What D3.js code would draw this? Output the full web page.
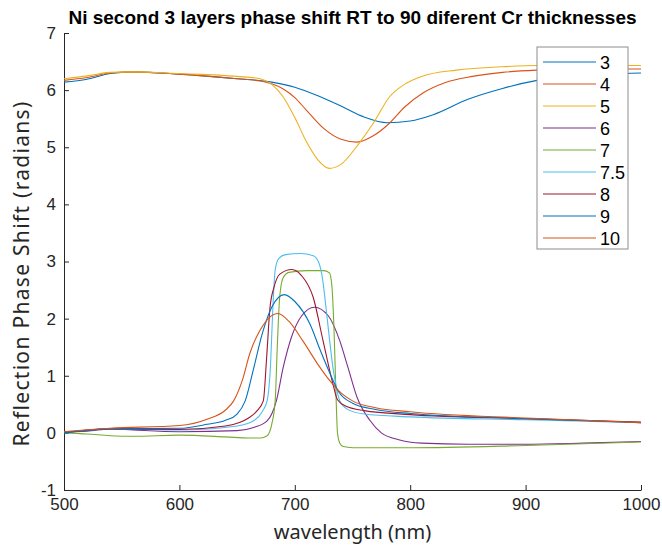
<!DOCTYPE html>
<html>
<head>
<meta charset="utf-8">
<script src="https://cdn.jsdelivr.net/npm/d3@7"></script>
<style>
  body { margin: 0; background: #fff; }
  svg { display: block; }
</style>
</head>
<body>
<div id="chart"></div>
<script>
// Legend names, in plot order
const names = ["3", "4", "5", "6", "7", "7.5", "8", "9", "10"];
const colors = ["#0072BD", "#D95319", "#EDB120", "#7E2F8E", "#77AC30", "#4DBEEE", "#A2142F", "#0072BD", "#D95319"];

// [wavelength nm, phase shift rad]
const s3 = [[500,6.14],[520,6.19],[540,6.29],[560,6.32],[600,6.28],[650,6.2],[680,6.14],[700,6.05],[720,5.9],[740,5.72],[760,5.53],[780,5.43],[800,5.46],[820,5.57],[850,5.84],[880,6.03],[910,6.17],[950,6.26],[1000,6.3]];
const s4 = [[500,6.17],[520,6.22],[540,6.3],[560,6.32],[600,6.28],[650,6.2],[670,6.16],[680,6.11],[690,6.02],[700,5.87],[710,5.65],[725,5.33],[740,5.14],[754,5.09],[768,5.2],[782,5.42],[795,5.7],[811,5.95],[830,6.13],[854,6.24],[880,6.31],[910,6.35],[950,6.37],[1000,6.37]];
const s5 = [[500,6.2],[520,6.25],[540,6.31],[560,6.32],[600,6.29],[650,6.24],[670,6.2],[680,6.1],[690,5.88],[700,5.52],[710,5.1],[720,4.78],[730,4.63],[740,4.7],[755,5.05],[768,5.42],[782,5.88],[795,6.1],[810,6.24],[840,6.35],[880,6.41],[910,6.43],[1000,6.43]];
const s6 = [[500,0.02],[520,0.03],[540,0.07],[560,0.05],[600,0.02],[650,0.04],[665,0.1],[676,0.21],[680,0.33],[684,0.56],[690,1.15],[697,1.67],[706,2.05],[717,2.2],[729,2.05],[739,1.61],[746,1.15],[754,0.62],[765,0.22],[775,0.0],[790,-0.12],[810,-0.18],[850,-0.2],[900,-0.2],[950,-0.18],[1000,-0.15]];
const s7 = [[500,0.0],[520,-0.02],[540,-0.05],[560,-0.06],[600,-0.04],[640,-0.07],[660,-0.09],[670,-0.09],[676,-0.05],[680,0.15],[683,0.56],[685,1.6],[687,2.4],[690,2.72],[695,2.81],[710,2.84],[725,2.84],[730,2.8],[732,2.6],[734,1.8],[735.5,0.8],[737,0.0],[739,-0.18],[742,-0.24],[750,-0.26],[800,-0.26],[900,-0.22],[1000,-0.16]];
const s75 = [[500,0.0],[540,0.07],[600,0.05],[650,0.12],[665,0.22],[672,0.38],[676,0.56],[679,1.2],[681,2.2],[683,2.85],[686,3.05],[692,3.12],[705,3.14],[716,3.1],[721,2.97],[724,2.7],[727,2.2],[730,1.65],[733,1.15],[735,0.9],[739,0.56],[745,0.42],[760,0.33],[800,0.28],[900,0.23],[1000,0.18]];
const s8 = [[500,0.0],[540,0.07],[600,0.06],[640,0.12],[652,0.18],[660,0.26],[667,0.38],[672.7,0.56],[675.6,1.32],[678.5,2.19],[682,2.55],[687,2.78],[697.5,2.86],[706,2.75],[716,2.37],[724.5,1.61],[733,0.86],[737,0.58],[745,0.46],[760,0.39],[800,0.32],[900,0.25],[1000,0.19]];
const s9 = [[500,0.0],[540,0.07],[600,0.08],[624,0.15],[640,0.22],[650,0.33],[657,0.56],[664,1.1],[672,1.75],[680,2.2],[691,2.42],[700,2.3],[713,1.91],[722,1.45],[730.5,1.04],[738,0.72],[750,0.52],[770,0.41],[800,0.34],[900,0.25],[1000,0.18]];
const s10 = [[500,0.02],[540,0.08],[600,0.13],[624,0.24],[640,0.4],[647,0.56],[655,0.95],[661,1.39],[670,1.8],[685.5,2.09],[695,1.95],[707,1.61],[720,1.2],[730.5,0.91],[740,0.7],[750,0.56],[770,0.44],[800,0.37],[900,0.26],[1000,0.18]];
const allSeries = [s3, s4, s5, s6, s7, s75, s8, s9, s10];

const xTicks = [500, 600, 700, 800, 900, 1000];
const yTicks = [-1, 0, 1, 2, 3, 4, 5, 6, 7];

const width = 662, height = 547;
const margin = { top: 33, right: 21, bottom: 57, left: 64 };

const svg = d3.select("#chart").append("svg")
  .attr("width", width).attr("height", height);

const x = d3.scaleLinear().domain([500, 1000]).range([margin.left, width - margin.right]);
const y = d3.scaleLinear().domain([-1, 7]).range([height - margin.bottom, margin.top]);

const axisColor = "#262626";
const tickFmt = d => String(d);

// x axis (ticks point inward like matlab)
const xAxis = svg.append("g")
  .attr("transform", `translate(0,${y(-1)})`)
  .call(d3.axisBottom(x).tickValues(xTicks).tickFormat(tickFmt).tickSizeInner(-5).tickSizeOuter(0).tickPadding(8));
const yAxis = svg.append("g")
  .attr("transform", `translate(${x(500)},0)`)
  .call(d3.axisLeft(y).tickValues(yTicks).tickFormat(tickFmt).tickSizeInner(-5).tickSizeOuter(0).tickPadding(8));

[xAxis, yAxis].forEach(g => {
  g.select(".domain").attr("stroke", axisColor);
  g.selectAll(".tick line").attr("stroke", axisColor);
  g.selectAll("text")
    .attr("fill", axisColor)
    .attr("font-family", "'Liberation Sans', Arial, sans-serif")
    .attr("font-size", 17);
});

const line = d3.line()
  .x(d => x(d[0]))
  .y(d => y(d[1]))
  .curve(d3.curveMonotoneX);

svg.append("g")
  .selectAll("path")
  .data(allSeries)
  .join("path")
  .attr("fill", "none")
  .attr("stroke", (d, i) => colors[i])
  .attr("stroke-width", 1.1)
  .attr("d", line);

// title
svg.append("text")
  .attr("x", (x(500) + x(1000)) / 2)
  .attr("y", 24)
  .attr("text-anchor", "middle")
  .attr("font-family", "'Liberation Sans', Arial, sans-serif")
  .attr("font-weight", "bold")
  .attr("font-size", 19)
  .attr("fill", "#000")
  .text("Ni second 3 layers phase shift RT to 90 diferent Cr thicknesses");

// axis labels
svg.append("text")
  .attr("x", (x(500) + x(1000)) / 2)
  .attr("y", 539)
  .attr("text-anchor", "middle")
  .attr("font-family", "'Noto Sans', 'Open Sans', sans-serif")
  .attr("font-size", 20)
  .attr("fill", axisColor)
  .text("wavelength (nm)");

svg.append("text")
  .attr("transform", `translate(29,${(y(-1) + y(7)) / 2 + 12}) rotate(-90)`)
  .attr("text-anchor", "middle")
  .attr("font-family", "'Noto Sans', 'Open Sans', sans-serif")
  .attr("font-size", 21)
  .attr("letter-spacing", 1.3)
  .attr("fill", axisColor)
  .text("Reflection Phase Shift (radians)");

// legend
const legend = svg.append("g").attr("transform", "translate(537,47)");
legend.append("rect")
  .attr("width", 91).attr("height", 202)
  .attr("fill", "#fff").attr("stroke", "#8c8c8c");

const row = legend.selectAll(".row")
  .data(names)
  .join("g")
  .attr("class", "row")
  .attr("transform", (d, i) => `translate(0,${15 + i * 22})`);

row.append("line")
  .attr("x1", 6).attr("x2", 59)
  .attr("stroke", (d, i) => colors[i])
  .attr("stroke-width", 1.1);

row.append("text")
  .attr("x", 63).attr("y", 6.5)
  .attr("font-family", "'Liberation Sans', Arial, sans-serif")
  .attr("font-size", 18)
  .attr("fill", "#000")
  .text(d => d);
</script>
</body>
</html>
